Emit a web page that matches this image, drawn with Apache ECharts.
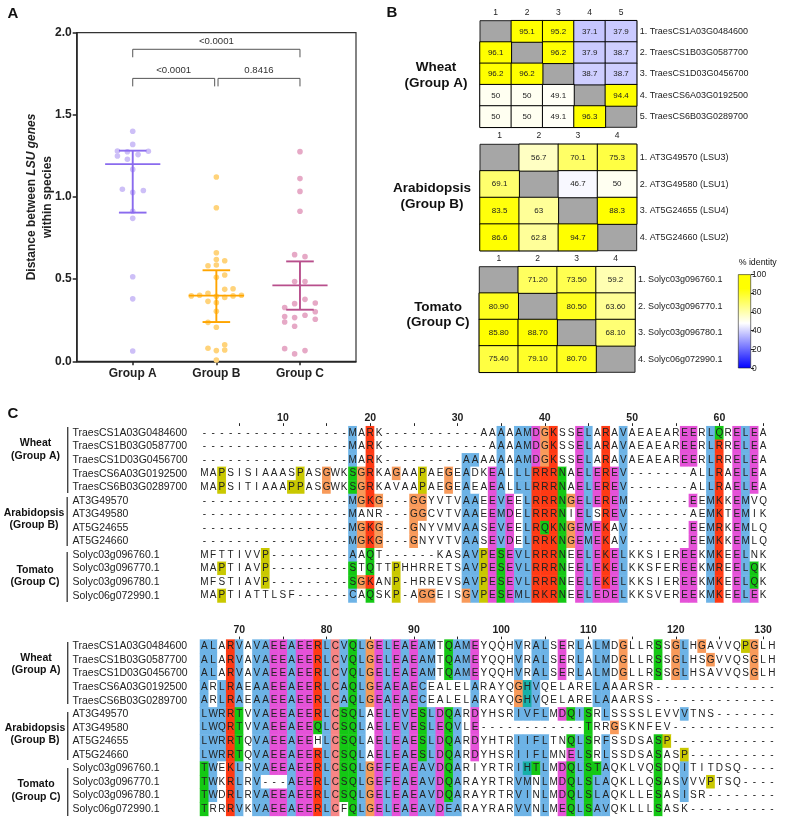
<!DOCTYPE html>
<html><head><meta charset="utf-8">
<style>html,body{margin:0;padding:0;background:#fff}#c{width:785px;height:821px}</style>
<script src="https://cdn.jsdelivr.net/npm/echarts@6/dist/echarts.min.js"></script>
</head><body><div id="c"></div>
<script>
// ---------- Panel A data ----------
const groupNames = ['Group A','Group B','Group C'];
const pointsA = [[1,1.40],[1,1.32],[0.817,1.28],[0.936,1.275],[1.187,1.278],[0.817,1.25],[1.064,1.258],[0.936,1.23],[1,1.168],[0.876,1.047],[1.127,1.04],[1,1.028],[1,0.913],[1,0.87],[1,0.515],[1,0.38],[1,0.063]];
const pointsB = [[2,1.122],[2,0.935],[2,0.661],[2,0.62],[2.1,0.612],[1.9,0.582],[2,0.586],[2.1,0.525],[2,0.511],[2.2,0.442],[2.1,0.438],[1.9,0.414],[1.7,0.398],[1.8,0.402],[2,0.396],[2.2,0.398],[2.3,0.402],[2.1,0.389],[1.9,0.365],[2,0.357],[2,0.304],[1.9,0.237],[2,0.207],[2.1,0.101],[1.9,0.079],[2.1,0.069],[2,0.065],[2,0.008]];
const pointsC = [[3,1.276],[3,1.112],[3,1.034],[3,0.913],[2.936,0.649],[3.06,0.637],[2.936,0.485],[3.06,0.485],[3.06,0.377],[2.936,0.351],[3.183,0.355],[2.817,0.327],[3.183,0.302],[2.817,0.272],[3.06,0.28],[2.936,0.266],[3.183,0.256],[2.817,0.239],[2.936,0.213],[2.817,0.077],[3.06,0.065],[2.936,0.045]];
const medians = [1.2,0.4,0.462];
const lowerQ = [0.905,0.239,0.314];
const upperQ = [1.282,0.554,0.608];
const brackets = [[1,3,1.899],[1,1.98,1.722],[2.02,3,1.722]];
const pLabels = ['<0.0001','<0.0001','0.8416'];

// ---------- Panel B data ----------
const wheatGenes = ['1. TraesCS1A03G0484600','2. TraesCS1B03G0587700','3. TraesCS1D03G0456700','4. TraesCS6A03G0192500','5. TraesCS6B03G0289700'];
const wheatId = [['',"95.1","95.2","37.1","37.9"],["96.1",'',"96.2","37.9","38.7"],["96.2","96.2",'',"38.7","38.7"],["50","50","49.1",'',"94.4"],["50","50","49.1","96.3",'']];
const arabGenes = ['1. AT3G49570 (LSU3)','2. AT3G49580 (LSU1)','3. AT5G24655 (LSU4)','4. AT5G24660 (LSU2)'];
const arabId = [['',"56.7","70.1","75.3"],["69.1",'',"46.7","50"],["83.5","63",'',"88.3"],["86.6","62.8","94.7",'']];
const tomGenes = ['1. Solyc03g096760.1','2. Solyc03g096770.1','3. Solyc03g096780.1','4. Solyc06g072990.1'];
const tomId = [['',"71.20","73.50","59.2"],["80.90",'',"80.50","63.60"],["85.80","88.70",'',"68.10"],["75.40","79.10","80.70",'']];

// ---------- Panel C data ----------
const alignGenes = ['TraesCS1A03G0484600','TraesCS1B03G0587700','TraesCS1D03G0456700','TraesCS6A03G0192500','TraesCS6B03G0289700','AT3G49570','AT3G49580','AT5G24655','AT5G24660','Solyc03g096760.1','Solyc03g096770.1','Solyc03g096780.1','Solyc06g072990.1'];
const block1 = [
"-----------------MARK-----------AAAAAMDGKSSELARAVAEAEAREERLQRELEA",
"-----------------MARK------------AAAAMDGKSSELARAVAEAEAREERLRRELEA",
"-----------------MARK---------AAAAAAAMDGKSSELARAVAEAEAREERLRRELEA",
"MAPSISIAAASPASGWKSGRKAGAAPAEGEADKEALLLRRRNAELEREV-------ALLRAELEA",
"MAPSITIAAAPPASGWKSGRKAVAAPAEGEAEAEALLLRRRNAELEREV-------ALLRAELEA",
"-----------------MGKG---GGYVTVAAEEVEELRRRNGELEREM-------EEMKKEMVQ",
"-----------------MANR---GGCVTVAAEEMDELRRRNIELSREV-------AEMKTEMIK",
"-----------------MGKG---GNYVMVAASEVEELRQKNGEMEKAV-------EEMRKEMLQ",
"-----------------MGKG---GNYVTVAASEVDELRRKNGEMEKAV-------EEMKKEMLQ",
"MFTTIVVP---------AAQT------KASAVPESEVLRRRNEELEKELKKSIEREEKMKEELNK",
"MAPTIAVP---------STQTTPHHRRETSAVPESEVLRRRNEELEKELKKSFEREEKMREELQK",
"MFSTIAVP---------SGKANP-HRREVSAVPESEVLRRRNEELEKELKKSIEREEKMKEELQK",
"MAPTIATTLSF------CAQSKP-AGGEISGVPESEMLRKRNEELEDELKKSVEREEKMKEELEK"];
const block2 = [
"ALARVAVAEEAEERLCVQLGELEAEAMTQAMEYQQHVRALSERLALMDGLLRSSGLHGAVVQPGLH",
"ALARVAVAEEAEERLCVQLGELEAEAMTQAMEYQQHVRALSERLALMDGLLRSSGLHSGVVQSGLH",
"ALARVAVAEEAEERLCVQLGELEAEAMTQAMEYQQHVRALSERLALMDGLLRSSGLHSAVVQSGLH",
"ARLRAEAAEEAEERLCAQLGEAEAECEALELARAYQGHVQELARELAAARSR--------------",
"ARLRAEAAEEAEERLCAQLGEAEAECEALELARAYQGHVQELARELAAARSS--------------",
"LWRRTVVAEEAEERLCSQLAELEVESLDQARDYHSRIVFLMDQISRLSSSSLEVVVTNS-------",
"LWQRTVVAEEAEEQLCSQLAELEVESLEQVLE------------TRRGSKNFEV------------",
"LWRRTQVAEEAEEHLCSQLAELEAESLDQARDYHTRIIFLTNQLSRFSSDSASP------------",
"LWRRTQVAEEAEERLCSQLAELEAESLDQARDYHSRIIFLMNELSRLSSDSASASP----------",
"TWEKLRVAEEAEERLCSQLGEFEAEAVDQARIYRTRIHTLMDQLSTAQKLVQSDQITITDSQ----",
"TWKRLRV---AEERLCSQLGEFEAEAVDQARAYRTRVMNLMDQLSLAQKLLQSASVVVPTSQ----",
"TWDRLRVAEEAEERLCSQLGELEAEAVDQARAYRTRVINLMDQLSLAQKLLESASISR--------",
"TRRRVKVAEEAEERLCFQLGELEAEAVDEARAYRARVVNLMEQLSAVQKLLLSASK----------"];

// ---------- styles ----------
const FONT = '"Liberation Sans", Arial, sans-serif';
const PAL = {b:'#6DB3E6',r:'#FF3A14',g:'#14C814',m:'#E552D8',o:'#F89A5A',y:'#C9C800',t:'#17B0A8',c:'#F78686',n:'#FFFFFF'};
const groupLine = ['#8A6BEE','#FFA500','#B84F8C'];
const groupDot = ['#CDBFF7','#FFD37A','#E6A9C6'];
// [row, column] cells of the second block painted hydrophobic blue in the figure despite the residue rule
const block2Blue = [[3,2],[4,2],[5,2],[6,2],[7,2],[8,2],[0,16],[1,16],[2,16],[3,16],[4,16],[12,28],[0,30],[1,30],[2,30],[3,31],[4,31]];

function clustal(seqs){
  return seqs.map((s,r)=>[...s].map((ch,c)=>{
    const col = seqs.map(q=>q[c]||'-');
    const pct = set => 100*col.filter(x=>set.includes(x)).length/col.length;
    const hyd=pct('WLVIMAFCHP'),kr=pct('KR'),qe=pct('QE'),ed=pct('ED'),ts=pct('TS');
    if(ch==='G')return 'o'; if(ch==='P')return 'y';
    if('AILMFWV'.includes(ch))return hyd>60?'b':'n';
    if(ch==='C')return pct('C')>=85?'c':(hyd>60?'b':'n');
    if('KR'.includes(ch))return (kr>60||pct('Q')>80)?'r':'n';
    if(ch==='N')return pct('N')>50?'g':'n';
    if(ch==='Q')return (kr>60||qe>50||pct('Q')>85)?'g':'n';
    if(ch==='E')return (kr>60||qe>50||ed>50)?'m':'n';
    if(ch==='D')return (kr>60||ed>50)?'m':'n';
    if('ST'.includes(ch))return (hyd>60||ts>50||pct('S')>80||pct('T')>80)?'g':'n';
    if('HY'.includes(ch))return (hyd>60||pct('Y')>85||pct('H')>85)?'t':'n';
    return 'n';
  }));
}
// colour ramp of the % identity scale
function ramp(v){
  const mix=(a,b,t)=>a.map((x,i)=>Math.round(x+(b[i]-x)*t));
  let c; if(v<=48)c=mix([0,0,255],[255,255,255],v/48);
  else if(v<=85)c=mix([255,255,255],[255,255,0],(v-48)/37);
  else c=[255,255,0];
  return 'rgb('+c.join(',')+')';
}
const rampStops=[]; for(let v=0;v<=100;v+=1)rampStops.push(ramp(v));

const grids=[], xAxes=[], yAxes=[], series=[], vmSeries=[];

// ---- Panel A
grids.push({left:76.7,top:32.7,width:279.3,height:328.6,show:true,borderColor:'#333',borderWidth:1.2,backgroundColor:'transparent'});
xAxes.push({gridIndex:0,type:'value',min:0.33,max:3.67,position:'bottom',splitLine:{show:false},
  axisLine:{lineStyle:{color:'#222',width:1.5}},
  axisTick:{customValues:[1,2,3],length:4,lineStyle:{color:'#222',width:1.5}},
  axisLabel:{customValues:[1,2,3],formatter:v=>groupNames[Math.round(v)-1],fontFamily:FONT,fontWeight:'bold',fontSize:12,color:'#222',margin:6}});
yAxes.push({gridIndex:0,type:'value',min:0,max:2,interval:0.5,splitLine:{show:false},
  axisLine:{show:true,lineStyle:{color:'#222',width:1.5}},
  axisTick:{show:true,length:4,lineStyle:{color:'#222',width:1.5}},
  axisLabel:{formatter:v=>v.toFixed(1),fontFamily:FONT,fontWeight:'bold',fontSize:12,color:'#222',margin:5},
  name:'{b|Distance between }{i|LSU genes}\n{b|within species}',nameLocation:'middle',nameRotate:90,nameGap:20.7,nameMoveOverlap:false,
  nameTextStyle:{lineHeight:16,align:'center',rich:{b:{fontFamily:FONT,fontWeight:'bold',fontSize:12,color:'#222'},i:{fontFamily:FONT,fontWeight:'bold',fontStyle:'italic',fontSize:12,color:'#222'}}}});
[pointsA,pointsB,pointsC].forEach((p,i)=>series.push({type:'scatter',xAxisIndex:0,yAxisIndex:0,data:p,symbolSize:5.6,itemStyle:{color:groupDot[i],opacity:1},z:2}));
series.push({type:'custom',xAxisIndex:0,yAxisIndex:0,z:3,
  data:medians.map((m,i)=>[i+1,m,lowerQ[i],upperQ[i]]),encode:{x:0,y:[1,2,3]},
  renderItem(params,api){
    const x=api.value(0),m=api.value(1),lo=api.value(2),hi=api.value(3);
    const st={stroke:groupLine[params.dataIndex],lineWidth:1.9,fill:null};
    const seg=(x1,y1,x2,y2)=>{const a=api.coord([x1,y1]),b=api.coord([x2,y2]);return {type:'line',shape:{x1:a[0],y1:a[1],x2:b[0],y2:b[1]},style:st};};
    return {type:'group',children:[seg(x,lo,x,hi),seg(x-0.33,m,x+0.33,m),seg(x-0.165,lo,x+0.165,lo),seg(x-0.165,hi,x+0.165,hi)]};
  }});
series.push({type:'custom',xAxisIndex:0,yAxisIndex:0,z:3,data:brackets,encode:{x:[0,1],y:2},
  renderItem(params,api){
    const a=api.coord([api.value(0),api.value(2)]),b=api.coord([api.value(1),api.value(2)]),d=8;
    return {type:'group',children:[
      {type:'polyline',shape:{points:[[a[0],a[1]+d],a,b,[b[0],b[1]+d]]},style:{stroke:'#555',lineWidth:1,fill:null}},
      {type:'text',x:(a[0]+b[0])/2,y:a[1]-8,style:{text:pLabels[params.dataIndex],fill:'#333',font:'9.6px '+FONT,textAlign:'center',textVerticalAlign:'middle'}}]};
  }});

// ---- Panel B heat tables
function table(left,top,w,h,genes,rows){
  const gi=grids.length;
  grids.push({left,top,width:w,height:h,show:true,backgroundColor:'#A6A6A6',borderColor:'#222',borderWidth:1});
  xAxes.push({gridIndex:gi,type:'category',position:'top',data:rows.map((_,i)=>String(i+1)),axisLine:{show:false},axisTick:{show:false},splitLine:{show:false},
    axisLabel:{fontFamily:FONT,fontSize:8.5,color:'#222',margin:4}});
  yAxes.push({gridIndex:gi,type:'category',position:'right',inverse:true,data:genes,axisLine:{show:false},axisTick:{show:false},splitLine:{show:false},
    axisLabel:{fontFamily:FONT,fontSize:9,color:'#222',margin:3}});
  const data=[];
  rows.forEach((row,r)=>row.forEach((s,c)=>{ if(s!=='') data.push({value:[c,r,parseFloat(s)],txt:s}); }));
  vmSeries.push(series.length);
  series.push({type:'heatmap',xAxisIndex:gi,yAxisIndex:gi,data,progressive:0,z:2,
    itemStyle:{borderColor:'#000',borderWidth:1},
    label:{show:true,formatter:p=>p.data.txt,fontFamily:FONT,fontSize:8,color:'#222'},
    emphasis:{disabled:true}});
}
table(480,20.7,156.7,106.6,wheatGenes,wheatId);
table(480,144.3,156.7,106.4,arabGenes,arabId);
table(479.3,266.7,155.7,105.6,tomGenes,tomId);

// ---- colour bar
const cb=grids.length;
grids.push({left:738,top:274.3,width:13,height:94,show:false});
xAxes.push({gridIndex:cb,type:'category',data:['% identity'],axisLine:{show:false},axisTick:{show:false},axisLabel:{show:false}});
yAxes.push({gridIndex:cb,type:'value',position:'right',min:0,max:100,interval:20,splitLine:{show:false},
  axisLine:{show:false},axisTick:{show:true,length:3,lineStyle:{color:'#222',width:1}},
  axisLabel:{fontFamily:FONT,fontSize:8.5,color:'#222',margin:1}});
series.push({type:'bar',xAxisIndex:cb,yAxisIndex:cb,data:[100],barWidth:'100%',silent:true,
  itemStyle:{borderColor:'#222',borderWidth:0.6,color:new echarts.graphic.LinearGradient(0,1,0,0,rampStops.map((c,i)=>({offset:i/(rampStops.length-1),color:c})))}});

// ---- Panel C alignment blocks
function alignment(left,top,seqs,firstCol,rowH,blue,margin){
  const gi=grids.length, n=seqs[0].length, classes=clustal(seqs), colW=8.73;
  blue.forEach(([r,c])=>{classes[r][c]='b';});
  grids.push({left,top,width:colW*n,height:rowH*13,show:false});
  xAxes.push({gridIndex:gi,type:'category',position:'top',data:Array.from({length:n},(_,i)=>String(firstCol+i)),
    axisLine:{show:false},splitLine:{show:false},
    axisTick:{show:true,alignWithLabel:true,length:3,interval:(i,v)=>+v%5===0,lineStyle:{color:'#222',width:1}},
    axisLabel:{interval:(i,v)=>+v%10===0,hideOverlap:false,fontFamily:FONT,fontWeight:'bold',fontSize:10.5,color:'#222',margin}});
  yAxes.push({gridIndex:gi,type:'category',inverse:true,data:alignGenes,axisLine:{show:false},axisTick:{show:false},splitLine:{show:false},
    axisLabel:{interval:0,align:'left',margin:left-72.5,fontFamily:FONT,fontSize:10.5,color:'#222'}});
  const data=[];
  seqs.forEach((s,r)=>[...s].forEach((ch,c)=>data.push({value:[c,r,1],letter:ch,itemStyle:{color:PAL[classes[r][c]]}})));
  series.push({type:'heatmap',xAxisIndex:gi,yAxisIndex:gi,data,progressive:0,emphasis:{disabled:true},
    label:{show:true,formatter:p=>p.data.letter,fontFamily:FONT,fontSize:10,color:'#222'}});
}
alignment(200,426.2,block1,1,13.56,[],3);
alignment(200,639.6,block2,66,13.56,block2Blue,4);

// ---- fixed labels
const txt=(x,y,text,font,align)=>({type:'text',x,y,silent:true,style:{text,font:font+' '+FONT,fill:'#111',textAlign:align||'center',textVerticalAlign:'middle'}});
const bar=(x,y1,y2)=>({type:'line',silent:true,shape:{x1:x,y1,x2:x,y2},style:{stroke:'#444',lineWidth:1.4}});
const graphics=[
 txt(13,14,'A','bold 15px'),txt(392,13,'B','bold 15px'),txt(13,414,'C','bold 15px'),
 txt(436,67,'Wheat','bold 13.5px'),txt(436,83,'(Group A)','bold 13.5px'),
 txt(432,188,'Arabidopsis','bold 13.5px'),txt(432,204,'(Group B)','bold 13.5px'),
 txt(438,307,'Tomato','bold 13.5px'),txt(438,322,'(Group C)','bold 13.5px'),
 txt(757.7,263,'% identity','8.8px'),
 txt(35.5,443,'Wheat','bold 10.5px'),txt(35.5,455.7,'(Group A)','bold 10.5px'),
 txt(34,513,'Arabidopsis','bold 10.5px'),txt(34,525,'(Group B)','bold 10.5px'),
 txt(35,570,'Tomato','bold 10.5px'),txt(35,582,'(Group C)','bold 10.5px'),
 txt(36,658,'Wheat','bold 10.5px'),txt(36,670,'(Group A)','bold 10.5px'),
 txt(35,728,'Arabidopsis','bold 10.5px'),txt(35,740,'(Group B)','bold 10.5px'),
 txt(36,784,'Tomato','bold 10.5px'),txt(36,797,'(Group C)','bold 10.5px'),
 bar(67.7,427,493),bar(67.2,497,546),bar(67.2,552,602),
 bar(67.7,642,704),bar(67.7,712,760),bar(67.7,768,816)
];

const chart=echarts.init(document.getElementById('c'),null,{renderer:'canvas'});
chart.setOption({animation:false,backgroundColor:'#fff',textStyle:{fontFamily:FONT},tooltip:{show:false},
  grid:grids,xAxis:xAxes,yAxis:yAxes,series,graphic:graphics,
  visualMap:{type:'continuous',show:false,min:0,max:100,seriesIndex:vmSeries,dimension:2,inRange:{color:rampStops}}});
</script></body></html>
